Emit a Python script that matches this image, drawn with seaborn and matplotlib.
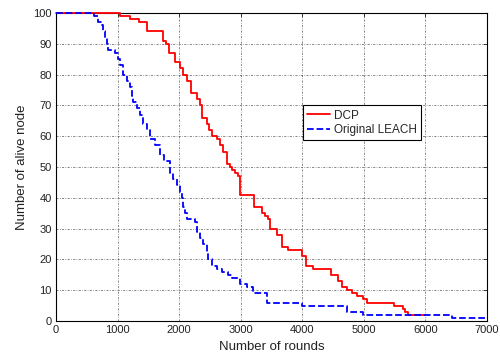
import pandas as pd
import matplotlib
matplotlib.use("Agg")
import matplotlib.pyplot as plt
import seaborn as sns

# DCP step curve (round at which the count changes, alive nodes after it)
dcp_rounds = [0, 1040, 1200, 1350, 1470, 1740, 1790, 1840, 1930, 2015, 2070, 2130,
              2200, 2285, 2340, 2365, 2450, 2490, 2530, 2610, 2665, 2720, 2770, 2830,
              2855, 2905, 2960, 2990, 3220, 3340, 3395, 3450, 3475, 3585, 3665, 3775,
              4000, 4060, 4180, 4470, 4585, 4640, 4720, 4800, 4885, 4990, 5045, 5490,
              5640, 5670, 5710, 6000]
dcp_alive = [100, 99, 98, 97, 94, 91, 90, 87, 84, 82, 80, 78,
             74, 72, 70, 66, 64, 62, 60, 59, 57, 55, 51, 50,
             49, 48, 47, 41, 37, 35, 34, 33, 30, 28, 24, 23,
             21, 18, 17, 15, 13, 11, 10, 9, 8, 7, 6, 5,
             4, 3, 2, 2]

# Original LEACH step curve
leach_rounds = [0, 610, 690, 740, 770, 795, 825, 850, 960, 1010, 1040, 1095,
                1150, 1200, 1230, 1255, 1310, 1365, 1420, 1475, 1530, 1610, 1690, 1750,
                1850, 1905, 1960, 2014, 2041, 2068, 2095, 2122, 2258, 2285, 2339, 2393,
                2447, 2474, 2528, 2610, 2690, 2800, 2853, 2990, 3100, 3205, 3420, 3990,
                4720, 4990, 6430, 7000]
leach_alive = [100, 99, 97, 96, 94, 92, 90, 88, 87, 85, 83, 80,
               78, 76, 73, 71, 69, 67, 64, 62, 59, 57, 54, 52,
               48, 46, 44, 42, 40, 37, 35, 33, 32, 29, 27, 25,
               22, 20, 18, 17, 16, 15, 14, 12, 11, 9, 6, 5,
               3, 2, 1, 1]

x_ticks = list(range(0, 7001, 1000))
y_ticks = list(range(0, 101, 10))

sns.set_style("white")
plt.rcParams["font.family"] = ["Liberation Sans", "DejaVu Sans"]

dcp = pd.DataFrame({"round": dcp_rounds, "alive": dcp_alive})
leach = pd.DataFrame({"round": leach_rounds, "alive": leach_alive})

fig = plt.figure(figsize=(5.0, 3.58), dpi=100)
ax = fig.add_axes([0.112, 0.1034, 0.862, 0.8603])

sns.lineplot(x="round", y="alive", data=dcp, ax=ax, color="red", linewidth=1.3,
             drawstyle="steps-post", label="DCP", estimator=None, clip_on=False, zorder=3)
sns.lineplot(x="round", y="alive", data=leach, ax=ax, color="blue", linewidth=1.3,
             linestyle="--", drawstyle="steps-post", label="Original LEACH", estimator=None,
             clip_on=False, zorder=4)

ax.set_xlim(0, 7000)
ax.set_ylim(0, 100)
ax.set_xticks(x_ticks)
ax.set_yticks(y_ticks)
ax.set_xlabel("Number of rounds", fontsize=9.5, labelpad=4, color="#222222")
ax.set_ylabel("Number of alive node", fontsize=9.5, labelpad=4, color="#222222")
ax.tick_params(direction="in", length=3, width=0.6, labelsize=8, top=True, right=True,
               pad=3, colors="#222222")
ax.grid(True, color="#555555", linewidth=0.5, linestyle=(0, (3, 2, 1, 2)))
for s in ax.spines.values():
    s.set_color("black")
    s.set_linewidth(0.8)

leg = ax.legend(loc="upper left", bbox_to_anchor=(0.573, 0.70), fontsize=8.5, frameon=True,
                fancybox=False, framealpha=1, edgecolor="black", handlelength=1.9,
                borderpad=0.35, labelspacing=0.2, handletextpad=0.4, borderaxespad=0)
leg.get_frame().set_linewidth(0.8)
leg.set_zorder(10)

fig.savefig("out.png", dpi=100)
